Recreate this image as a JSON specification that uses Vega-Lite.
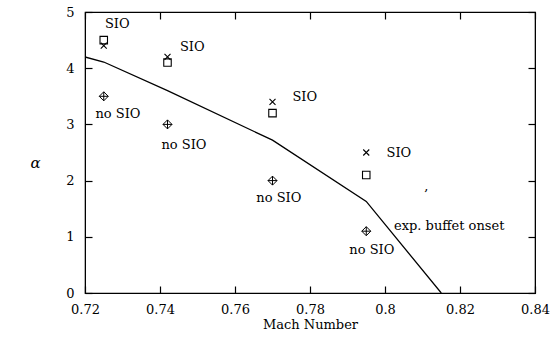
{
  "$schema": "https://vega.github.io/schema/vega-lite/v6.json",
  "width": 450,
  "height": 281,
  "autosize": {"type": "none"},
  "padding": {"left": 85, "top": 12, "right": 23, "bottom": 44},
  "background": "white",
  "config": {
    "view": {"stroke": "black", "strokeWidth": 1.2},
    "font": "DejaVu Serif",
    "axis": {
      "labelFont": "DejaVu Serif",
      "titleFont": "DejaVu Serif",
      "labelFontSize": 13,
      "titleFontSize": 13,
      "labelColor": "black",
      "titleColor": "black",
      "titleFontWeight": "normal",
      "grid": false,
      "domainColor": "black",
      "tickColor": "black",
      "tickSize": -7,
      "tickWidth": 1.2
    }
  },
  "datasets": {
    "points": [
      {"mach": 0.725, "alpha": 4.5, "kind": "square"},
      {"mach": 0.725, "alpha": 4.4, "kind": "cross"},
      {"mach": 0.725, "alpha": 3.5, "kind": "diamond"},
      {"mach": 0.742, "alpha": 4.1, "kind": "square"},
      {"mach": 0.742, "alpha": 4.2, "kind": "cross"},
      {"mach": 0.742, "alpha": 3.0, "kind": "diamond"},
      {"mach": 0.770, "alpha": 3.2, "kind": "square"},
      {"mach": 0.770, "alpha": 3.4, "kind": "cross"},
      {"mach": 0.770, "alpha": 2.0, "kind": "diamond"},
      {"mach": 0.795, "alpha": 2.1, "kind": "square"},
      {"mach": 0.795, "alpha": 2.5, "kind": "cross"},
      {"mach": 0.795, "alpha": 1.1, "kind": "diamond"}
    ],
    "onset": [
      {"mach": 0.720, "alpha": 4.2},
      {"mach": 0.725, "alpha": 4.11},
      {"mach": 0.742, "alpha": 3.6},
      {"mach": 0.770, "alpha": 2.72},
      {"mach": 0.795, "alpha": 1.63},
      {"mach": 0.815, "alpha": 0.0}
    ],
    "leftLabels": [
      {"mach": 0.7253, "alpha": 4.78, "label": "SIO"},
      {"mach": 0.7453, "alpha": 4.38, "label": "SIO"},
      {"mach": 0.7753, "alpha": 3.49, "label": "SIO"},
      {"mach": 0.8004, "alpha": 2.49, "label": "SIO"},
      {"mach": 0.8024, "alpha": 1.2, "label": "exp. buffet onset"}
    ],
    "centerLabels": [
      {"mach": 0.7288, "alpha": 3.18, "label": "no SIO"},
      {"mach": 0.7464, "alpha": 2.63, "label": "no SIO"},
      {"mach": 0.7717, "alpha": 1.69, "label": "no SIO"},
      {"mach": 0.7965, "alpha": 0.77, "label": "no SIO"},
      {"mach": 0.811, "alpha": 1.9, "label": ","}
    ]
  },
  "resolve": {"axis": {"x": "independent", "y": "independent"}},
  "layer": [
    {
      "data": {"name": "onset"},
      "mark": {"type": "line", "color": "black", "strokeWidth": 1.3, "clip": true},
      "encoding": {
        "x": {"field": "mach", "type": "quantitative",
              "scale": {"domain": [0.72, 0.84], "nice": false, "zero": false},
              "axis": {"title": "Mach Number", "values": [0.72, 0.74, 0.76, 0.78, 0.8, 0.82, 0.84],
                       "labelExpr": "datum.value == 0.8 ? '0.8' : format(datum.value, '.2f')",
                       "labelPadding": 17, "titlePadding": 2, "labelFlush": false}},
        "y": {"field": "alpha", "type": "quantitative",
              "scale": {"domain": [0, 5], "nice": false},
              "axis": {"title": "α", "titleAngle": 0, "titleFontStyle": "italic", "titleFontSize": 15,
                       "titleX": -50, "titleY": 150, "titleAlign": "center", "titleBaseline": "middle",
                       "values": [0, 1, 2, 3, 4, 5], "labelPadding": 18}}
      }
    },
    {
      "data": {"name": "points"},
      "transform": [{"filter": "datum.kind != 'diamond'"}],
      "mark": {"type": "point", "filled": false, "strokeWidth": 1.1, "opacity": 1},
      "encoding": {
        "x": {"field": "mach", "type": "quantitative",
              "axis": {"orient": "top", "labels": false, "title": null, "values": [0.72, 0.74, 0.76, 0.78, 0.8, 0.82, 0.84]}},
        "y": {"field": "alpha", "type": "quantitative",
              "axis": {"orient": "right", "labels": false, "title": null, "values": [0, 1, 2, 3, 4, 5]}},
        "shape": {"field": "kind", "type": "nominal", "legend": null,
                  "scale": {"domain": ["square", "cross"],
                            "range": ["M-1,-1L1,-1L1,1L-1,1Z", "M-1,-1L1,1M-1,1L1,-1"]}},
        "size": {"field": "kind", "type": "nominal", "legend": null,
                 "scale": {"domain": ["square", "cross"], "range": [56, 36]}},
        "color": {"value": "black"}
      }
    },
    {
      "data": {"name": "points"},
      "transform": [{"filter": "datum.kind == 'diamond'"}],
      "mark": {"type": "point", "filled": false, "strokeWidth": 1.0, "opacity": 1, "size": 81,
               "shape": "M0,-1L1,0L0,1L-1,0ZM0,-1L0,1M-1,0L1,0"},
      "encoding": {
        "x": {"field": "mach", "type": "quantitative", "axis": null},
        "y": {"field": "alpha", "type": "quantitative", "axis": null},
        "color": {"value": "black"}
      }
    },
    {
      "data": {"name": "leftLabels"},
      "mark": {"type": "text", "align": "left", "baseline": "middle", "fontSize": 13, "font": "DejaVu Serif", "color": "black"},
      "encoding": {
        "x": {"field": "mach", "type": "quantitative", "axis": null},
        "y": {"field": "alpha", "type": "quantitative", "axis": null},
        "text": {"field": "label"}
      }
    },
    {
      "data": {"name": "centerLabels"},
      "mark": {"type": "text", "align": "center", "baseline": "middle", "fontSize": 13, "font": "DejaVu Serif", "color": "black"},
      "encoding": {
        "x": {"field": "mach", "type": "quantitative", "axis": null},
        "y": {"field": "alpha", "type": "quantitative", "axis": null},
        "text": {"field": "label"}
      }
    }
  ]
}
